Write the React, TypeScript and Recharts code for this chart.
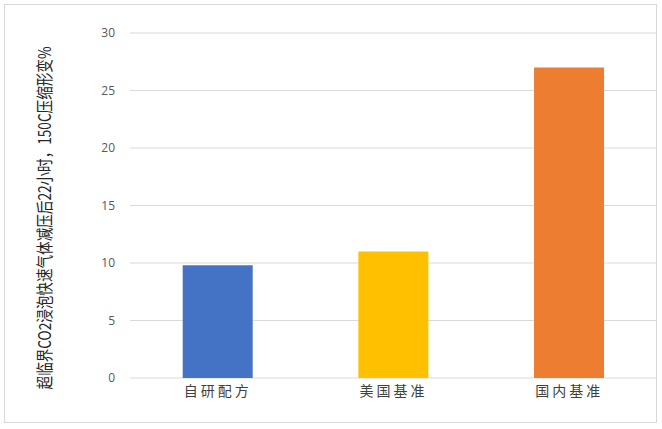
import React from "react";
import { BarChart, Bar, XAxis, YAxis, CartesianGrid, Cell } from "recharts";

const categories = ["自研配方", "美国基准", "国内基准"];
const values = [9.8, 11, 27];
const barColors = ["#4472C4", "#FFC000", "#ED7D31"];
const yTicks = [0, 5, 10, 15, 20, 25, 30];
const yLabel = "超临界CO2浸泡快速气体减压后22小时，150C压缩形变%";

const data = categories.map((name, i) => ({ name, value: values[i] }));

const YLabel = () => (
  <text
    transform="translate(43,218) rotate(-90) scale(0.8,1)"
    x={0}
    y={0}
    textAnchor="middle"
    dominantBaseline="central"
    fontSize={17}
    fill="#262626"
    fontFamily="'Noto Sans CJK SC', 'Noto Sans', sans-serif"
  >
    {yLabel}
  </text>
);

export default function App() {
  return (
    <div style={{ position: "absolute", left: 0, top: 0, width: 662, height: 429, background: "#fff" }}>
      <div
        style={{
          position: "absolute",
          left: 4,
          top: 4,
          width: 653,
          height: 419,
          border: "1px solid #d9d9d9",
          boxSizing: "border-box",
        }}
      />
      <div style={{ position: "absolute", left: 0, top: 0 }}>
        <BarChart
          width={662}
          height={429}
          data={data}
          margin={{ top: 33, right: 5, bottom: 21, left: 0 }}
          barCategoryGap="30%"
        >
          <CartesianGrid vertical={false} stroke="#d9d9d9" strokeWidth={1} />
          <XAxis
            dataKey="name"
            axisLine={false}
            tickLine={false}
            tickSize={0}
            tickMargin={8}
            height={30}
            interval={0}
            tick={{
              fontSize: 14,
              fill: "#404040",
              fontFamily: "'Noto Sans CJK SC', sans-serif",
              letterSpacing: 3,
            }}
          />
          <YAxis
            width={130}
            domain={[0, 30]}
            ticks={yTicks}
            axisLine={false}
            tickLine={false}
            tickSize={0}
            tickMargin={15}
            tick={{ fontSize: 12, fill: "#595959", fontFamily: "'Open Sans', sans-serif" }}
            label={<YLabel />}
          />
          <Bar dataKey="value" isAnimationActive={false}>
            {data.map((d, i) => (
              <Cell key={d.name} fill={barColors[i]} />
            ))}
          </Bar>
        </BarChart>
      </div>
    </div>
  );
}
